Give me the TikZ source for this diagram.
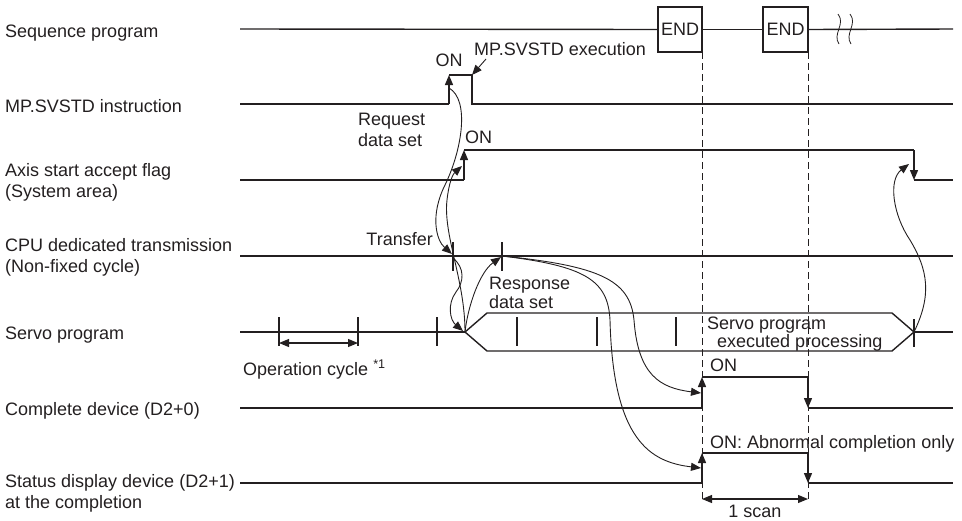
\documentclass[tikz,border=0pt]{standalone}
\usepackage{fontspec}
\setmainfont{Liberation Sans}
\usetikzlibrary{arrows.meta}
\definecolor{ink}{HTML}{231F20}
\tikzset{
  wave/.style={line width=1.4pt, draw=ink},
  tickmark/.style={line width=1.3pt, draw=ink},
  lbl/.style={font=\fontsize{18}{21}\selectfont, text=ink, inner sep=0pt, align=left},
  edgetip/.style={wave, -{Triangle[length=10pt,width=8pt]}},
  curve/.style={line width=0.9pt, draw=ink, -{Triangle[length=10pt,width=8pt]}},
  dimarrow/.style={line width=1.1pt, draw=ink, {Triangle[length=10pt,width=8pt]}-{Triangle[length=10pt,width=8pt]}},
  dashline/.style={dash pattern=on 7pt off 4pt, line width=1pt, draw=ink},
  endbox/.style={draw=ink, line width=1.3pt, inner sep=0pt, outer sep=0pt, font=\fontsize{18}{21}\selectfont, text=ink},
}
\begin{document}
\begin{tikzpicture}[x=1pt,y=-1pt]
\useasboundingbox (0,0) rectangle (962,520);

% ---------- left labels ----------
\node[lbl,anchor=base west] (Lseq) at (5,37) {Sequence program};
\node[lbl,anchor=base west] (Lmp) at (5,112) {MP.SVSTD instruction};
\node[lbl,anchor=west] (Lax) at (5,182) {Axis start accept flag\\(System area)};
\node[lbl,anchor=west] (Lcpu) at (5,257) {CPU dedicated transmission\\(Non-fixed cycle)};
\node[lbl,anchor=base west] (Lsv) at (5,339) {Servo program};
\node[lbl,anchor=base west] (Lcd) at (5,415) {Complete device (D2+0)};
\node[lbl,anchor=west] (Lst) at (5,493) {Status display device (D2+1)\\at the completion};

% ---------- sequence program ----------
\coordinate (sq0) at (240,29);
\coordinate (sq1) at (953,29);
\node[endbox, minimum width=44pt, minimum height=45pt] (end1) at (680,29.5) {END};
\node[endbox, minimum width=45pt, minimum height=45pt] (end2) at (785.5,29.5) {END};
\draw[wave] (sq0) -- (end1.west);
\draw[wave] (end1.east) -- (end2.west);
\draw[wave] (end2.east) -- (sq1);
\coordinate (br1a) at (838,14); \coordinate (br1b) at (839,44);
\coordinate (br2a) at (850,14); \coordinate (br2b) at (851,44);
\draw[line width=0.8pt, draw=ink] (br1a) .. controls (846,24) and (832,34) .. (br1b);
\draw[line width=0.8pt, draw=ink] (br2a) .. controls (858,24) and (844,34) .. (br2b);

% dashed guide lines
\coordinate (dg1) at (702,500);
\coordinate (dg2) at (808,500);
\draw[dashline] (end1.south east) -- (dg1);
\draw[dashline] (end2.south east) -- (dg2);

% ---------- MP.SVSTD instruction ----------
\coordinate (mpA) at (240,104);
\coordinate (mpR0) at (449,104);
\coordinate (mpR1) at (449,75);
\coordinate (mpF1) at (472,75);
\coordinate (mpF0) at (472,104);
\coordinate (mpE) at (953,104);
\draw[wave] (mpA) -- (mpR0);
\draw[edgetip] (mpR0) -- (mpR1);
\draw[wave] (mpR1) -- (mpF1) -- (mpF0) -- (mpE);
\node[lbl,anchor=base] (on1) at (449,66) {ON};
\node[lbl,anchor=base west] (exec) at (474,55) {MP.SVSTD execution};
\coordinate (ex0) at (486,59);
\draw[curve] (ex0) -- (mpF1);

% ---------- axis start accept flag ----------
\coordinate (axA) at (240,180);
\coordinate (axR0) at (464,180);
\coordinate (axR1) at (464,150);
\coordinate (axF1) at (914,150);
\coordinate (axF0) at (914,180);
\coordinate (axE) at (953,180);
\draw[wave] (axA) -- (axR0);
\draw[edgetip] (axR0) -- (axR1);
\draw[wave] (axR1) -- (axF1);
\draw[edgetip] (axF1) -- (axF0);
\draw[wave] (axF0) -- (axE);
\node[lbl,anchor=base west] (on2) at (465,143) {ON};
\node[lbl,anchor=west] (req) at (358,130) {Request\\data set};

% ---------- CPU dedicated transmission ----------
\coordinate (cpA) at (240,256);
\coordinate (cpE) at (953,256);
\draw[wave] (cpA) -- (cpE);
\coordinate (tr) at (453,256);
\coordinate (rs) at (502,256);
\draw[tickmark] (453,242) -- (453,271);
\draw[tickmark] (502,242) -- (502,271);
\node[lbl,anchor=base east] (transfer) at (433,245) {Transfer};
\node[lbl,anchor=west,font=\fontsize{18}{19}\selectfont] (resp) at (489,293) {Response\\data set};

% ---------- servo program ----------
\coordinate (svA) at (240,332);
\coordinate (hxL) at (465,332);
\coordinate (hxUL) at (487,313);
\coordinate (hxUR) at (892,313);
\coordinate (hxR) at (914,332);
\coordinate (hxLR) at (892,351);
\coordinate (hxLL) at (487,351);
\coordinate (svE) at (953,332);
\draw[wave] (svA) -- (hxL);
\draw[wave] (hxL) -- (hxUL) -- (hxUR) -- (hxR) -- (hxLR) -- (hxLL) -- cycle;
\draw[wave] (hxR) -- (svE);
\foreach \x in {279,358,437,517,597,676} \draw[tickmark] (\x,317) -- (\x,346);
\draw[tickmark] (914,319) -- (914,347);
\coordinate (oc0) at (279,343);
\coordinate (oc1) at (358,343);
\draw[dimarrow] (oc0) -- (oc1);
\node[lbl,anchor=base west] (opc) at (243,375) {Operation cycle \textsuperscript{*1}};
\node[lbl,anchor=base west] (svt1) at (707,329) {Servo program};
\node[lbl,anchor=base west] (svt2) at (717,347) {executed processing};

% ---------- complete device ----------
\coordinate (cdA) at (240,408);
\coordinate (cdR0) at (702,408);
\coordinate (cdR1) at (702,377);
\coordinate (cdF1) at (808,377);
\coordinate (cdF0) at (808,408);
\coordinate (cdE) at (953,408);
\draw[wave] (cdA) -- (cdR0);
\draw[edgetip] (cdR0) -- (cdR1);
\draw[wave] (cdR1) -- (cdF1);
\draw[edgetip] (cdF1) -- (cdF0);
\draw[wave] (cdF0) -- (cdE);
\node[lbl,anchor=base west] (on3) at (710,371) {ON};

% ---------- status display device ----------
\coordinate (stA) at (240,483);
\coordinate (stR0) at (702,483);
\coordinate (stR1) at (702,453);
\coordinate (stF1) at (808,453);
\coordinate (stF0) at (808,483);
\coordinate (stE) at (953,483);
\draw[wave] (stA) -- (stR0);
\draw[edgetip] (stR0) -- (stR1);
\draw[wave] (stR1) -- (stF1);
\draw[edgetip] (stF1) -- (stF0);
\draw[wave] (stF0) -- (stE);
\node[lbl,anchor=base west] (on4) at (710,448) {ON: Abnormal completion only};

\coordinate (sc0) at (702,499);
\coordinate (sc1) at (808,499);
\draw[dimarrow] (sc0) -- (sc1);
\node[lbl,anchor=base] (scan) at (755,517) {1 scan};

% ---------- causal curves ----------
\coordinate (aS) at (449,88);
\coordinate (aE) at (452,254);
\draw[curve] (aS) .. controls (470,100) and (462,150) .. (445,185) .. controls (430,215) and (436,240) .. (aE);
\coordinate (bE) at (462,166);
\draw[curve] (hxL) .. controls (465,280) and (443,235) .. (447,200) .. controls (449,182) and (453,174) .. (bE);
\coordinate (cS) at (453,258);
\coordinate (cE) at (463,331);
\draw[curve] (cS) .. controls (465,268) and (464,282) .. (456,292) .. controls (447,304) and (450,320) .. (cE);
\coordinate (dE) at (501,257);
\draw[curve] (hxL) .. controls (468,305) and (480,272) .. (dE);
\coordinate (eE) at (701,393);
\draw[curve] (rs) .. controls (600,266) and (630,280) .. (634,320) .. controls (638,375) and (660,388) .. (eE);
\coordinate (fE) at (701,468);
\draw[curve] (rs) .. controls (585,266) and (608,280) .. (610,320) .. controls (613,440) and (650,462) .. (fE);
\coordinate (gE) at (909,164);
\draw[curve] (hxR) .. controls (932,295) and (928,270) .. (910,240) .. controls (893,215) and (888,180) .. (gE);

\end{tikzpicture}
\end{document}
